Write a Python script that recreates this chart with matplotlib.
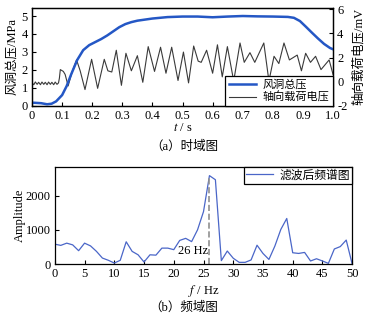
import numpy as np
import matplotlib
matplotlib.use('Agg')
import matplotlib.pyplot as plt

plt.rcParams['font.family'] = ['Liberation Serif', 'Noto Sans CJK SC']
plt.rcParams['mathtext.fontset'] = 'stix'
plt.rcParams['axes.unicode_minus'] = False

# Top panel: wind tunnel total pressure (MPa)
t_press = [0.00, 0.03, 0.05, 0.065, 0.08, 0.10, 0.115, 0.13, 0.15, 0.17, 0.19, 0.21,
           0.23, 0.25, 0.27, 0.29, 0.31, 0.33, 0.35, 0.40, 0.45, 0.50, 0.55, 0.60,
           0.65, 0.70, 0.75, 0.80, 0.85, 0.87, 0.89, 0.91, 0.93, 0.95, 0.97, 0.99, 1.00]
press = [0.18, 0.15, 0.09, 0.12, 0.25, 0.6, 1.1, 1.75, 2.55, 3.1, 3.38, 3.55,
         3.72, 3.92, 4.15, 4.38, 4.55, 4.66, 4.74, 4.86, 4.94, 4.97, 4.97, 4.93,
         4.97, 5.0, 4.98, 4.97, 4.95, 4.9, 4.72, 4.4, 4.07, 3.75, 3.45, 3.22, 3.15]

# Top panel: axial load voltage (mV)
t_volt = [0.000, 0.006, 0.011, 0.017, 0.022, 0.028, 0.033, 0.039, 0.044, 0.050,
          0.055, 0.061, 0.066, 0.072, 0.077, 0.083, 0.088, 0.091, 0.094, 0.104,
          0.110, 0.120, 0.133, 0.148, 0.160, 0.176, 0.198, 0.218, 0.240, 0.252,
          0.265, 0.280, 0.297, 0.312, 0.330, 0.350, 0.368, 0.386, 0.407, 0.427,
          0.445, 0.464, 0.485, 0.503, 0.520, 0.537, 0.552, 0.562, 0.580, 0.600,
          0.616, 0.632, 0.649, 0.670, 0.691, 0.705, 0.724, 0.740, 0.770, 0.787,
          0.804, 0.820, 0.837, 0.855, 0.881, 0.895, 0.909, 0.925, 0.942, 0.960,
          0.987, 1.000]
volt = [-0.1, -0.25, -0.02, -0.22, -0.05, -0.25, -0.03, -0.22, -0.05, -0.25,
        -0.03, -0.22, -0.05, -0.25, -0.03, -0.22, -0.1, 0.3, 1.0, 0.85,
        0.6, -0.35, 0.8, 1.8, 0.9, -0.65, 1.85, -0.55, 1.85, 0.9,
        0.8, 2.6, -0.3, 2.35, 0.9, 2.15, -0.05, 2.9, 0.85, 2.85,
        0.7, 2.85, 0.1, 2.45, -0.1, 2.95, 1.7, 1.6, 2.6, 0.7,
        3.05, 0.4, 2.9, 0.05, 3.2, 1.6, 2.4, 1.6, 3.2, 0.05,
        2.1, 1.5, 3.2, 1.8, 2.2, 0.9, 2.35, 1.6, 2.1, 1.0,
        1.8, 0.6]

# Bottom panel: filtered spectrum
freq = list(range(0, 51))
amp = [580, 545, 610, 560, 390, 610, 530, 370, 175, 110,
       30, 110, 650, 370, 270, 60, 270, 260, 465, 465,
       420, 690, 750, 655, 1000, 1530, 2580, 2460, 100, 380,
       170, 50, 50, 120, 550, 310, 135, 525, 1010, 1330,
       330, 310, 340, 90, 155, 90, 20, 440, 510, 700, 0]

fig = plt.figure(figsize=(3.68, 3.17), dpi=100)

# ---- (a) time domain ----
ax1 = fig.add_axes([0.087, 0.666, 0.818, 0.309])
ax2 = ax1.twinx()
ax1.set_zorder(ax2.get_zorder() + 1)
ax1.patch.set_visible(False)

l2, = ax2.plot(t_volt, volt, color='#3a3a3a', lw=0.8, label='轴向载荷电压')
l1, = ax1.plot(t_press, press, color='#2457c5', lw=1.8, label='风洞总压')

ax1.set_xlim(0, 1.0)
ax1.set_ylim(0, 5.45)
ax2.set_ylim(-2, 6.1)
ax1.set_xticks(np.arange(0, 1.01, 0.1))
ax1.set_xticklabels(['0', '0.1', '0.2', '0.3', '0.4', '0.5', '0.6', '0.7', '0.8', '0.9', '1.0'])
ax1.set_yticks([0, 1, 2, 3, 4, 5])
ax2.set_yticks([-2, 0, 2, 4, 6])
for ax in (ax1, ax2):
    ax.tick_params(direction='in', labelsize=9, length=3, pad=3)
    for s in ax.spines.values():
        s.set_linewidth(0.9)

ax1.set_ylabel('风洞总压/MPa', fontsize=9)
ax1.yaxis.set_label_coords(-0.047, 0.5)
ax2.set_ylabel('轴向载荷电压/mV', fontsize=9)
ax2.yaxis.set_label_coords(1.066, 0.5)
ax1.set_xlabel(r'$t$ / s', fontsize=9)
ax1.xaxis.set_label_coords(0.5, -0.165)

leg1 = ax1.legend(handles=[l1, l2], loc='lower right', bbox_to_anchor=(1.0, 0.0),
                  borderaxespad=0, fancybox=False, edgecolor='black', framealpha=1,
                  fontsize=8, handlelength=2.5, borderpad=0.3, labelspacing=0.15,
                  handletextpad=0.6)
leg1.get_frame().set_linewidth(0.9)

fig.text(0.5, 0.539, '（a）时域图', ha='center', va='center', fontsize=9)

# ---- (b) frequency domain ----
ax3 = fig.add_axes([0.149, 0.167, 0.808, 0.306])
l3, = ax3.plot(freq, amp, color='#4a66c8', lw=0.9, label='滤波后频谱图')
pk = int(np.argmax(amp))
ax3.plot([freq[pk], freq[pk]], [0, amp[pk]], color='#909090', lw=1.2, ls='--')
ax3.text(freq[pk] - 0.2, 370, f'{freq[pk]} Hz', ha='right', va='center', fontsize=9)

ax3.set_xlim(0, 50)
ax3.set_ylim(0, 2830)
ax3.set_xticks(range(0, 51, 5))
ax3.set_yticks([0, 1000, 2000])
ax3.tick_params(direction='in', labelsize=9, length=3, pad=3)
for s in ax3.spines.values():
    s.set_linewidth(0.9)
ax3.set_ylabel('Amplitude', fontsize=9)
ax3.yaxis.set_label_coords(-0.097, 0.5)
ax3.set_xlabel(r'$f$ / Hz', fontsize=9)
ax3.xaxis.set_label_coords(0.5, -0.2)

leg3 = ax3.legend(loc='upper right', borderaxespad=0, fancybox=False,
                  edgecolor='black', framealpha=1, fontsize=8.5, handlelength=2.3,
                  borderpad=0.2, handletextpad=0.5)
leg3.get_frame().set_linewidth(0.9)

fig.text(0.5, 0.028, '（b）频域图', ha='center', va='center', fontsize=9)

fig.savefig('out.png', dpi=100)
